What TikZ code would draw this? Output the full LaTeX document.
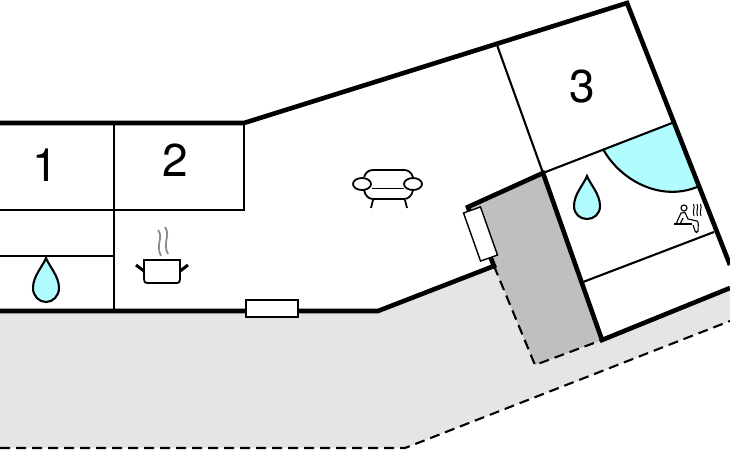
\documentclass[tikz,border=0pt]{standalone}
\usepackage{fontspec}
\setmainfont{TeX Gyre Heros}
\definecolor{mywater}{RGB}{176,252,255}
\definecolor{myyard}{RGB}{229,229,229}
\definecolor{myroof}{RGB}{191,191,191}
\definecolor{mysteam}{RGB}{140,140,140}
\newcommand\waterdrop[3]{
  \draw[thinwall,fill=mywater] (#1,#2) .. controls (#1-3,#2+8) and (#1-13,#2+18) .. (#1-13,#2+30)
    .. controls (#1-13,#2+38) and (#1-7,#2+#3) .. (#1,#2+#3)
    .. controls (#1+7,#2+#3) and (#1+13,#2+38) .. (#1+13,#2+30)
    .. controls (#1+13,#2+18) and (#1+3,#2+8) .. cycle;
}
\begin{document}
\begin{tikzpicture}[
    x=1pt,y=-1pt,
    wall/.style={line width=4.6pt,line join=miter},
    thinwall/.style={line width=2.1pt},
    iconline/.style={line width=1.8pt},
    dashline/.style={line width=2.1pt,dash pattern=on 10pt off 6pt},
    opening/.style={draw,line width=1.4pt,fill=white,inner sep=0pt},
    roomno/.style={font=\fontsize{46}{46}\selectfont,inner sep=0pt},]

    \useasboundingbox (0,0) rectangle (730,450);

    % yard and covered terrace
    \fill[myyard] (0,311) -- (378,311) -- (494,266) -- (535,365) -- (602,340) -- (730,288) -- (730,321) -- (405,448) -- (0,448) -- cycle;
    \fill[myroof] (468,207) -- (543,173) -- (602,340) -- (535,365) -- (494,266) -- cycle;
    \draw[dashline] (494,266) -- (535,365) -- (602,340);
    \draw[dashline] (0,448) -- (405,448) -- (730,321);

    % bathroom tub
    \fill[mywater] (603,149) .. controls (620,180) and (660,202) .. (697,187) -- (672,123) -- cycle;
    \draw[thinwall] (603,149) .. controls (620,180) and (660,202) .. (697,187);

    % inner walls
    \draw[thinwall] (114,123) -- (114,311);
    \draw[thinwall] (0,210) -- (244,210) -- (244,123);
    \draw[thinwall] (0,256) -- (114,256);
    \draw[thinwall] (497,45) -- (543,173) -- (672,123);
    \draw[thinwall] (583,282) -- (714,232);

    % outer walls
    \draw[wall] (0,123) -- (244,123) -- (627,3) -- (730,265);
    \draw[wall] (730,288) -- (602,340) -- (543,173) -- (468,207) -- (470,213);
    \draw[wall] (0,311) -- (378,311) -- (494,266) -- (490,256);

    \node[opening,minimum width=52pt,minimum height=17pt] (window) at (272,308.5) {};
    \node[opening,minimum width=51pt,minimum height=18pt,rotate=-70.5] (door) at (480.5,234) {};

    \node[roomno] (room1) at (45,165) {1};
    \node[roomno] (room2) at (175,160.5) {2};
    \node[roomno] (room3) at (582,87) {3};

    \waterdrop{46}{258}{44}
    \waterdrop{587}{176}{43}

    % sofa
    \draw[iconline] (364,177) .. controls (366,172) and (369,170) .. (373,170) -- (404,170) .. controls (408,170) and (411,172) .. (413,177);
    \draw[iconline] (362,184) ellipse (9 and 6);
    \draw[iconline] (413,184) ellipse (9 and 6);
    \draw[iconline] (372,188.5) -- (404,188.5);
    \draw[iconline] (364,190) .. controls (365,196) and (369,199) .. (373,199) -- (404,199) .. controls (408,199) and (412,196) .. (413,190);
    \draw[iconline] (373,200) -- (371,208);
    \draw[iconline] (405,200) -- (407,208);

    % pot
    \draw[iconline] (144,260) -- (180,260) -- (180,279) .. controls (180,282) and (179,283) .. (177,283) -- (147,283) .. controls (145,283) and (144,282) .. (144,279) -- cycle;
    \draw[line width=3pt] (136,265) -- (144,271);
    \draw[line width=3pt] (180,271) -- (188,265);
    \draw[mysteam,iconline] (158,230) .. controls (164,238) and (155,244) .. (161,256);
    \draw[mysteam,iconline] (165,227) .. controls (171,235) and (162,243) .. (168,254);

    % sauna
    \draw[line width=1.1pt] (684,208) circle (3);
    \draw[line width=1.1pt] (674,224) -- (692,224);
    \draw[line width=1.1pt] (676,224) -- (681,213) -- (685,212.5) -- (688,219) -- (697,221) .. controls (699,222) and (698,226) .. (698,231) .. controls (698,233) and (695,233) .. (695,231) -- (693,225);
    \draw[line width=1.1pt] (680,224) -- (683,218);
    \foreach \sx in {693.5,697,700.5}
      \draw[line width=1pt] (\sx,204) .. controls (\sx+2,208) and (\sx-1.5,211) .. (\sx+.5,216);
\end{tikzpicture}
\end{document}
